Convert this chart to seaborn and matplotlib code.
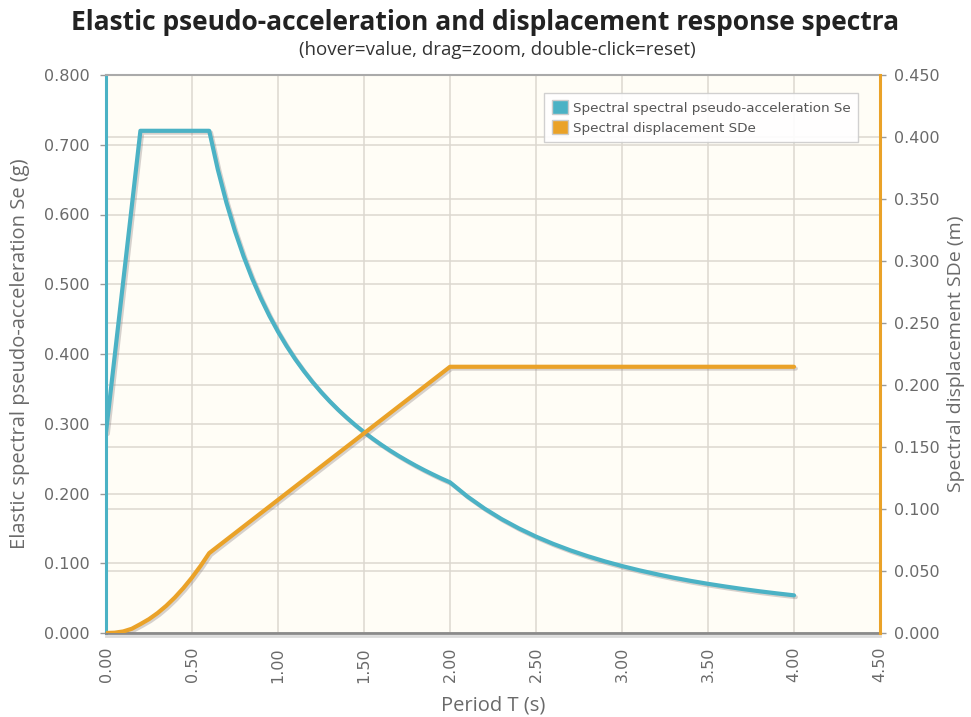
import matplotlib
matplotlib.use("Agg")
import matplotlib.pyplot as plt
import matplotlib.patheffects as pe
from matplotlib.patches import Patch
from matplotlib.ticker import FixedLocator
import pandas as pd
import seaborn as sns

# ---- data ----
period = [0.00, 0.05, 0.10, 0.15, 0.20, 0.25, 0.30, 0.35, 0.40, 0.45, 0.50,
          0.55, 0.60, 0.65, 0.70, 0.75, 0.80, 0.85, 0.90, 0.95, 1.00, 1.05,
          1.10, 1.15, 1.20, 1.25, 1.30, 1.35, 1.40, 1.45, 1.50, 1.55, 1.60,
          1.65, 1.70, 1.75, 1.80, 1.85, 1.90, 1.95, 2.00, 2.10, 2.20, 2.30,
          2.40, 2.50, 2.60, 2.70, 2.80, 2.90, 3.00, 3.10, 3.20, 3.30, 3.40,
          3.50, 3.60, 3.70, 3.80, 3.90, 4.00]
se_g = [0.288, 0.396, 0.504, 0.612, 0.720, 0.720, 0.720, 0.720, 0.720, 0.720,
        0.720, 0.720, 0.720, 0.6646, 0.6171, 0.576, 0.540, 0.5082, 0.480,
        0.4547, 0.432, 0.4114, 0.3927, 0.3757, 0.360, 0.3456, 0.3323, 0.320,
        0.3086, 0.2979, 0.288, 0.2787, 0.270, 0.2618, 0.2541, 0.2469, 0.240,
        0.2335, 0.2274, 0.2215, 0.216, 0.1959, 0.1785, 0.1633, 0.150, 0.1382,
        0.1278, 0.1185, 0.1102, 0.1027, 0.096, 0.0899, 0.0844, 0.0793,
        0.0747, 0.0705, 0.0667, 0.0631, 0.0598, 0.0568, 0.054]
sde_m = [0.0, 0.00025, 0.00125, 0.00342, 0.00716, 0.01118, 0.0161, 0.02192,
         0.02863, 0.03623, 0.04473, 0.05412, 0.06441, 0.06978, 0.07515,
         0.08051, 0.08588, 0.09125, 0.09662, 0.10198, 0.10735, 0.11272,
         0.11809, 0.12345, 0.12882, 0.13419, 0.13956, 0.14492, 0.15029,
         0.15566, 0.16103, 0.16639, 0.17176, 0.17713, 0.18250, 0.18786,
         0.19323, 0.19860, 0.20397, 0.20933, 0.2147, 0.2147, 0.2147, 0.2147,
         0.2147, 0.2147, 0.2147, 0.2147, 0.2147, 0.2147, 0.2147, 0.2147,
         0.2147, 0.2147, 0.2147, 0.2147, 0.2147, 0.2147, 0.2147, 0.2147,
         0.2147]
x_ticks = [0.0, 0.5, 1.0, 1.5, 2.0, 2.5, 3.0, 3.5, 4.0, 4.5]
left_ticks = [0.0, 0.1, 0.2, 0.3, 0.4, 0.5, 0.6, 0.7, 0.8]
right_ticks = [0.0, 0.05, 0.10, 0.15, 0.20, 0.25, 0.30, 0.35, 0.40, 0.45]

title = "Elastic pseudo-acceleration and displacement response spectra"
subtitle = "(hover=value, drag=zoom, double-click=reset)"
se_name = "Spectral spectral pseudo-acceleration Se"
sde_name = "Spectral displacement SDe"

df = pd.DataFrame({"T": period, "Se": se_g, "SDe": sde_m})

TEAL = "#4bb2c5"
ORANGE = "#eaa228"
GRID = "#dcd8d0"
TICKC = "#6a6a6a"
BG = "#fffdf6"

sns.set_style("white")
plt.rcParams["font.family"] = ["DejaVu Sans"]

fig = plt.figure(figsize=(9.71, 7.17), dpi=100)
ax = fig.add_axes([106 / 971, 1 - 633 / 717, 774 / 971, 558 / 717])
ax2 = ax.twinx()
ax.set_facecolor(BG)
ax2.patch.set_visible(False)

shadow = [pe.SimpleLineShadow(offset=(1.3, -1.3), shadow_color="#8a7f80", alpha=0.35),
          pe.Normal()]

sns.lineplot(data=df, x="T", y="Se", ax=ax, color=TEAL, linewidth=3,
             path_effects=shadow, legend=False)
sns.lineplot(data=df, x="T", y="SDe", ax=ax2, color=ORANGE, linewidth=3,
             path_effects=shadow, legend=False)

ax.set_xlim(0, 4.5)
ax.set_ylim(0, 0.8)
ax2.set_ylim(0, 0.45)

ax.set_xticks(x_ticks)
ax.set_xticklabels([f"{v:.2f}" for v in x_ticks], rotation=90)
ax.set_yticks(left_ticks)
ax.set_yticklabels([f"{v:.3f}" for v in left_ticks])
ax2.set_yticks(right_ticks)
ax2.set_yticklabels([f"{v:.3f}" for v in right_ticks])

# grid: left axis lines plus right axis lines mapped onto left scale
ax.yaxis.set_minor_locator(FixedLocator([v / 0.45 * 0.8 for v in right_ticks]))
ax.grid(True, which="major", color=GRID, linewidth=1.1)
ax.grid(True, which="minor", axis="y", color=GRID, linewidth=1.1)
ax.tick_params(axis="y", which="minor", length=0)
ax2.grid(False)
ax.set_axisbelow(True)

for a in (ax, ax2):
    a.tick_params(axis="both", which="major", labelsize=11.5, labelcolor=TICKC,
                  color="#999999", length=4, width=1)
ax.tick_params(axis="x", pad=6)
ax.tick_params(axis="y", pad=8, left=True)
ax2.tick_params(axis="y", pad=6, right=True)

for s in ("left", "right", "top", "bottom"):
    ax.spines[s].set_visible(False)
    ax2.spines[s].set_visible(False)
ax.spines["left"].set_visible(True)
ax.spines["left"].set_color(TEAL)
ax.spines["left"].set_linewidth(2.2)
ax2.spines["right"].set_visible(True)
ax2.spines["right"].set_color(ORANGE)
ax2.spines["right"].set_linewidth(2.2)
ax.spines["top"].set_visible(True)
ax.spines["top"].set_color("#aaaaaa")
ax.spines["top"].set_linewidth(1.5)
ax.spines["bottom"].set_visible(True)
ax.spines["bottom"].set_color("#8a8a8a")
ax.spines["bottom"].set_linewidth(2)
ax.spines["bottom"].set_path_effects(
    [pe.SimpleLineShadow(offset=(0, -2), shadow_color="#999999", alpha=0.35), pe.Normal()])

ax.set_xlabel("Period T (s)", fontsize=14.5, color=TICKC, family="Open Sans", labelpad=9)
ax.set_ylabel("Elastic spectral pseudo-acceleration Se (g)", fontsize=14.5,
              color=TICKC, family="Open Sans", labelpad=10)
ax2.set_ylabel("Spectral displacement SDe (m)", fontsize=14, color=TICKC,
               family="Open Sans", rotation=90, labelpad=5)

fig.text(485 / 971, 1 - 22 / 717, title, ha="center", va="center", fontsize=19,
         fontweight="bold", color="#222222", family="Open Sans")
fig.text(497 / 971, 1 - 50 / 717, subtitle, ha="center", va="center", fontsize=13.5,
         color="#333333", family="Open Sans")

handles = [Patch(facecolor=TEAL, edgecolor="#cccccc", label=se_name),
           Patch(facecolor=ORANGE, edgecolor="#cccccc", label=sde_name)]
leg = ax2.legend(handles=handles, loc="upper right", bbox_to_anchor=(0.972, 0.968),
                 fontsize=9.7, frameon=True, fancybox=False, borderpad=0.55,
                 handlelength=1.2, handleheight=1.2, handletextpad=0.4,
                 labelspacing=0.4, borderaxespad=0)
leg.get_frame().set_edgecolor("#cccccc")
leg.get_frame().set_facecolor("white")
leg.get_frame().set_alpha(0.9)
for t in leg.get_texts():
    t.set_color("#555555")

fig.savefig("out.png", dpi=100)
